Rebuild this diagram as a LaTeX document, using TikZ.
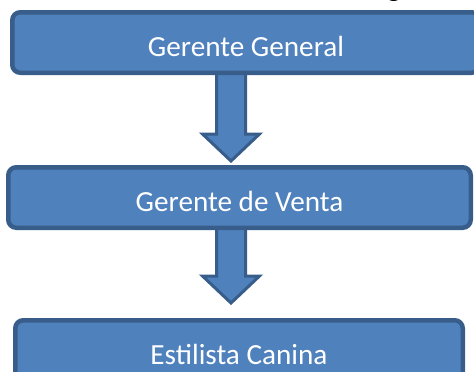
\documentclass[tikz,border=0pt]{standalone}
\usepackage{fontspec}
\setmainfont{Carlito}
\usepackage{xcolor}
\usetikzlibrary{positioning}
\definecolor{boxblue}{HTML}{4F81BD}
\definecolor{boxline}{HTML}{385D8A}
\pgfdeclarelayer{background}
\pgfsetlayers{background,main}

\begin{document}
\begin{tikzpicture}[x=1pt, y=1pt, font=\fontsize{29.2}{35}\selectfont,
      puesto/.style={draw=boxline, fill=boxblue, text=white, line width=4.5pt,
         rounded corners=8pt, minimum height=60.5pt, text height=28.4pt, text depth=0pt},
      flecha/.style={draw=boxline, fill=boxblue, line width=3pt}]
      \useasboundingbox (0,0) rectangle (474,-372);
      \node[puesto, name=general, minimum width=467.5pt] at (246,-42.5) {Gerente General};
      \node[puesto, name=venta, minimum width=462.5pt] at (239.5,-197.5) {Gerente de Venta};
      \node[puesto, name=estilista, minimum width=447.5pt] at (239,-350.5) {Estilista Canina};
      \node[anchor=base, name=frag] at (394,3) {g};

      \coordinate (tip1) at (231,-161);
      \coordinate (tip2) at (231,-303);

      \begin{pgfonlayer}{background}
      \draw[flecha] ([xshift=-14.5pt]general.south -| tip1) |- ([xshift=-28.5pt, yshift=27pt]tip1)
         -- (tip1) -- ([xshift=28.5pt, yshift=27pt]tip1) -| ([xshift=14.5pt]general.south -| tip1);
      \draw[flecha] ([xshift=-14.5pt]venta.south -| tip2) |- ([xshift=-28.5pt, yshift=27pt]tip2)
         -- (tip2) -- ([xshift=28.5pt, yshift=27pt]tip2) -| ([xshift=14.5pt]venta.south -| tip2);
      \end{pgfonlayer}
   \end{tikzpicture}
\end{document}
